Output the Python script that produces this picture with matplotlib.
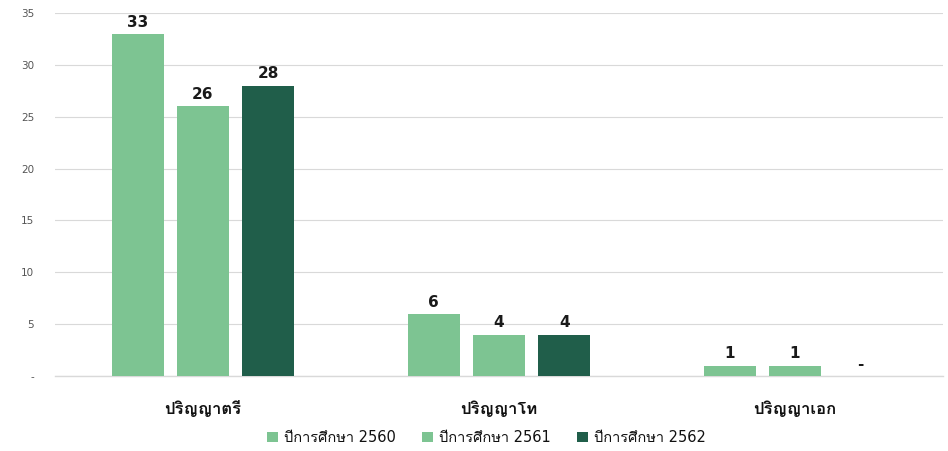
import matplotlib
matplotlib.use("Agg")
import matplotlib.pyplot as plt
from matplotlib import font_manager as fm
import numpy as np

categories = ["ปริญญาตรี", "ปริญญาโท", "ปริญญาเอก"]
series_names = ["ปีการศึกษา 2560", "ปีการศึกษา 2561", "ปีการศึกษา 2562"]
values_2560 = [33, 6, 1]
values_2561 = [26, 4, 1]
values_2562 = [28, 4, 0]
colors = ["#7dc492", "#7dc492", "#205e4a"]
yticks = [0, 5, 10, 15, 20, 25, 30, 35]
ytick_labels = ["-", "5", "10", "15", "20", "25", "30", "35"]

# find a font with Thai coverage
thai_font = None
try:
    from fontTools.ttLib import TTFont
    for f in fm.fontManager.ttflist:
        try:
            tt = TTFont(f.fname, fontNumber=0, lazy=True)
            cmap = tt.getBestCmap()
            if cmap and 0x0E1B in cmap and 0x0E35 in cmap:
                thai_font = f.name
                break
        except Exception:
            pass
except Exception:
    pass
fams = ["DejaVu Sans"] + ([thai_font] if thai_font else [])
plt.rcParams['font.family'] = fams

fig = plt.figure(figsize=(9.48, 4.51), dpi=100)
ax = fig.add_axes([0.058, 0.1663, 0.9367, 0.8049])

x = np.arange(len(categories))
width = 0.176
step = 0.221
series = [values_2560, values_2561, values_2562]
for i, (vals, c, name) in enumerate(zip(series, colors, series_names)):
    pos = x + (i - 1) * step
    ax.bar(pos, vals, width, color=c, label=name, zorder=3)
    for p, v in zip(pos, vals):
        lbl = str(v) if v != 0 else "-"
        ax.text(p, v + 0.4, lbl, ha="center", va="bottom", fontsize=11,
                fontweight="bold", color="#1a1a1a", zorder=4)

ax.set_xlim(-0.5, 2.5)
ax.set_ylim(0, 35)
ax.set_yticks(yticks)
ax.set_yticklabels(ytick_labels, fontsize=7.5, color="#555555")
ax.tick_params(axis="y", length=0, pad=15)
ax.set_xticks(x)
ax.set_xticklabels(categories, fontsize=12, color="#111111", fontweight="bold")
ax.tick_params(axis="x", length=0, pad=17)
ax.grid(axis="y", color="#d9d9d9", linewidth=0.8, zorder=0)
ax.axhline(0, color="#d9d9d9", linewidth=1.0, zorder=2, clip_on=False)
for s in ax.spines.values():
    s.set_visible(False)

handles, labels = ax.get_legend_handles_labels()
fig.legend(handles, labels, loc="center", bbox_to_anchor=(0.513, 0.03), ncol=3,
           frameon=False, prop={"size": 10.5}, handlelength=0.75, handleheight=0.75,
           handletextpad=0.4, columnspacing=1.8, labelcolor="#111111")

fig.savefig("out.png", dpi=100)
